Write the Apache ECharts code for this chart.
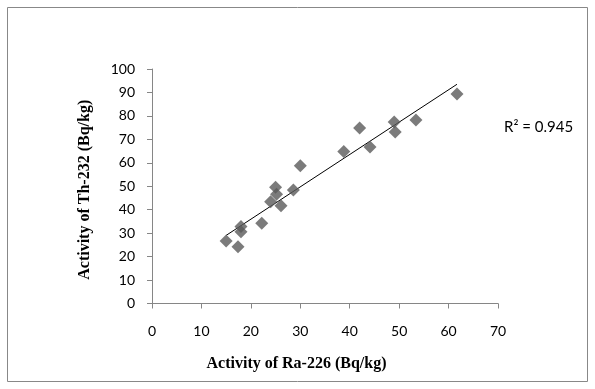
<!DOCTYPE html>
<html><head><meta charset="utf-8">
<script src="https://cdn.jsdelivr.net/npm/echarts@6/dist/echarts.min.js"></script>
<style>html,body{margin:0;padding:0;background:#fff}#c{width:595px;height:389px}</style>
</head><body><div id="c"></div>
<script>
var raValues = [15.0, 17.4, 18.0, 18.0, 22.2, 24.0, 25.0, 25.2, 26.1, 28.6, 30.0, 38.8, 42.0, 44.1, 49.0, 49.2, 53.4, 61.7];
var thValues = [26.6, 24.2, 32.8, 30.6, 34.2, 43.4, 49.6, 46.6, 41.7, 48.4, 58.7, 64.8, 74.8, 66.7, 77.4, 73.1, 78.3, 89.3];
var xTicks = [0, 10, 20, 30, 40, 50, 60, 70];
var yTicks = [0, 10, 20, 30, 40, 50, 60, 70, 80, 90, 100];
var r2Label = 'R\u00b2 = 0.945';
var xTitle = 'Activity of Ra-226 (Bq/kg)';
var yTitle = 'Activity of Th-232 (Bq/kg)';

var pts = raValues.map(function(x, i){ return [x, thValues[i]]; });
var n = raValues.length, sx=0, sy=0, sxx=0, sxy=0;
for (var i=0;i<n;i++){ sx+=raValues[i]; sy+=thValues[i]; sxx+=raValues[i]*raValues[i]; sxy+=raValues[i]*thValues[i]; }
var slope = (n*sxy - sx*sy)/(n*sxx - sx*sx);
var icpt = (sy - slope*sx)/n;
var xmin = Math.min.apply(null, raValues), xmax = Math.max.apply(null, raValues);
var trend = [[xmin, icpt+slope*xmin],[xmax, icpt+slope*xmax]];

var chart = echarts.init(document.getElementById('c'), null, {renderer:'canvas'});
var axisCol = '#868686';
var tickFont = 'Lato, "Open Sans", sans-serif';
chart.setOption({
  animation:false,
  backgroundColor:'#fff',
  graphic:[
    {type:'rect', shape:{x:7.5,y:7.5,width:580,height:374}, style:{fill:'none', stroke:'#888', lineWidth:1}, z:-1},
    {type:'text', left:504, top:120, style:{text:r2Label, font:'15px Lato, "Open Sans", sans-serif', fill:'#000'}}
  ],
  grid:{left:152, top:69, width:346, height:234.5, containLabel:false},
  xAxis:{type:'value', min:0, max:70, interval:10,
    name:xTitle, nameLocation:'middle', nameGap:52,
    nameTextStyle:{fontFamily:'"Liberation Serif", serif', fontWeight:'bold', fontSize:16, color:'#000', padding:[0,57,0,0]},
    axisLine:{show:true, onZero:false, lineStyle:{color:axisCol, width:1}},
    axisTick:{show:true, inside:false, length:5, lineStyle:{color:axisCol}},
    axisLabel:{margin:21, fontFamily:tickFont, fontSize:14, color:'#000'},
    splitLine:{show:false}},
  yAxis:{type:'value', min:0, max:100, interval:10,
    name:yTitle, nameLocation:'middle', nameGap:59, nameRotate:90,
    nameTextStyle:{fontFamily:'"Liberation Serif", serif', fontWeight:'bold', fontSize:16, color:'#000', padding:[0,7,0,0]},
    axisLine:{show:true, onZero:false, lineStyle:{color:axisCol, width:1}},
    axisTick:{show:true, inside:false, length:5, lineStyle:{color:axisCol}},
    axisLabel:{margin:17, fontFamily:tickFont, fontSize:14, color:'#000'},
    splitLine:{show:false}},
  series:[
    {type:'scatter', data:pts, symbol:'diamond', symbolSize:13, itemStyle:{color:'#5a5a5a'}, z:3},
    {type:'line', data:trend, symbol:'none', lineStyle:{color:'#000', width:1}, z:2, silent:true}
  ]
});
</script></body></html>
